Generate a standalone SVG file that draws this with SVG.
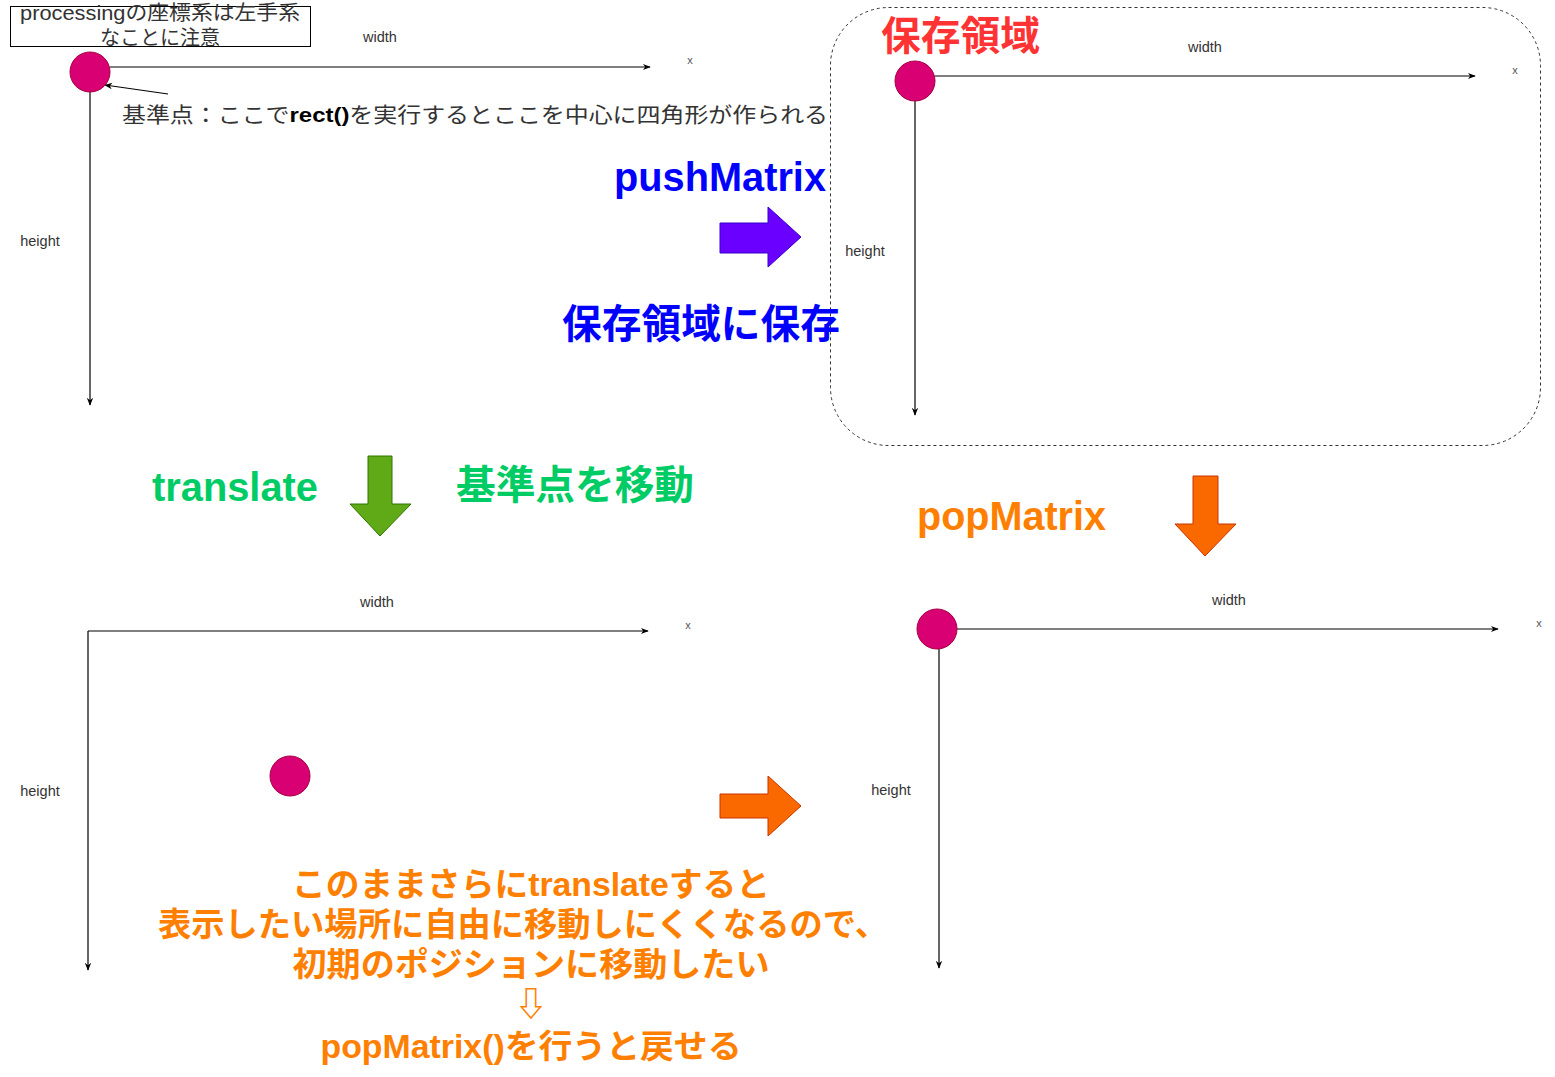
<svg xmlns="http://www.w3.org/2000/svg" width="1555" height="1077" viewBox="0 0 1555 1077">
<style>
.bg{fill:#ffffff}
.dot{fill:#d80073;stroke:#a50040;stroke-width:1}
.axis{fill:none;stroke:#000;stroke-width:1.2}
.lbl{font-family:"Liberation Sans","Noto Sans CJK JP",sans-serif;font-size:14.5px;fill:#333;text-anchor:middle}
.xl{font-family:"Liberation Sans","Noto Sans CJK JP",sans-serif;font-size:11px;fill:#555;text-anchor:middle}
.big{font-family:"Liberation Sans","Noto Sans CJK JP",sans-serif;font-size:40px;font-weight:bold}
.note{font-family:"Liberation Sans","Noto Sans CJK JP",sans-serif;fill:#333}
.bot{font-family:"Liberation Sans","Noto Sans CJK JP",sans-serif;font-size:33px;font-weight:bold;fill:#FF8000;text-anchor:middle}
</style>
<defs>
<marker id="ah" viewBox="0 0 10 10" refX="9" refY="5" markerWidth="8" markerHeight="8" markerUnits="userSpaceOnUse" orient="auto">
<path d="M0,1 L10,5 L0,9 L3,5 z" fill="#000"/>
</marker>
</defs>
<rect class="bg" x="0" y="0" width="1555" height="1077"/>

<g id="storage-area">
<rect x="830.5" y="7.5" width="710" height="438" rx="58" ry="58" fill="none" stroke="#333" stroke-width="1" stroke-dasharray="3 3"/>
<text class="big" x="881" y="50" fill="#FF3333" textLength="159" lengthAdjust="spacingAndGlyphs">保存領域</text>
</g>

<g id="note-box">
<rect x="10.5" y="6.5" width="300" height="40" fill="#fff" stroke="#000" stroke-width="1"/>
<text class="note" font-size="20" x="160" y="20" text-anchor="middle" textLength="280" lengthAdjust="spacingAndGlyphs">processingの座標系は左手系</text>
<text class="note" font-size="20" x="160" y="45" text-anchor="middle">なことに注意</text>
</g>

<g id="origin-note">
<text class="note" font-size="21" x="122" y="122" textLength="706" lengthAdjust="spacingAndGlyphs">基準点：ここで<tspan font-weight="bold" fill="#000">rect()</tspan>を実行するとここを中心に四角形が作られる</text>
</g>

<g id="connectors">
<line class="axis" x1="110" y1="67" x2="650" y2="67" marker-end="url(#ah)"/>
<line class="axis" x1="90" y1="92" x2="90" y2="405" marker-end="url(#ah)"/>
<line class="axis" x1="168" y1="94" x2="105" y2="85" stroke-width="1" marker-end="url(#ah)"/>
<line class="axis" x1="935" y1="76" x2="1475" y2="76" marker-end="url(#ah)"/>
<line class="axis" x1="915" y1="101" x2="915" y2="415" marker-end="url(#ah)"/>
<line class="axis" x1="88" y1="631" x2="648" y2="631" marker-end="url(#ah)"/>
<line class="axis" x1="88" y1="631" x2="88" y2="970" marker-end="url(#ah)"/>
<line class="axis" x1="957" y1="629" x2="1498" y2="629" stroke="#808080" stroke-width="1.5" marker-end="url(#ah)"/>
<line class="axis" x1="939" y1="649" x2="939" y2="968" stroke="#333" marker-end="url(#ah)"/>
</g>

<g id="axes-labels">
<text class="lbl" x="380" y="42">width</text>
<text class="xl" x="690" y="64">x</text>
<text class="lbl" x="40" y="246">height</text>
<text class="lbl" x="1205" y="52">width</text>
<text class="xl" x="1515" y="74">x</text>
<text class="lbl" x="865" y="256">height</text>
<text class="lbl" x="377" y="607">width</text>
<text class="xl" x="688" y="629">x</text>
<text class="lbl" x="40" y="796">height</text>
<text class="lbl" x="1229" y="605">width</text>
<text class="xl" x="1539" y="627">x</text>
<text class="lbl" x="891" y="795">height</text>
</g>

<g id="origin-top-left"><circle class="dot" cx="90" cy="72" r="20"/></g>
<g id="origin-top-right"><circle class="dot" cx="915" cy="81" r="20"/></g>
<g id="origin-bottom-left"><circle class="dot" cx="290" cy="776" r="20"/></g>
<g id="origin-bottom-right"><circle class="dot" cx="937" cy="629" r="20"/></g>

<g id="push-arrow">
<path d="M720,223 L768,223 L768,207 L801,237 L768,267 L768,253 L720,253 Z" fill="#6a00ff" stroke="#3700cc" stroke-width="1"/>
</g>
<g id="push-label">
<text class="big" x="826" y="191" text-anchor="end" fill="#0000FF" textLength="212" lengthAdjust="spacingAndGlyphs">pushMatrix</text>
</g>
<g id="push-desc">
<text class="big" x="562" y="338" fill="#0000FF" textLength="278" lengthAdjust="spacingAndGlyphs">保存領域に保存</text>
</g>

<g id="translate-arrow">
<path d="M368,456 L392,456 L392,504 L411,504 L380,536 L350,504 L368,504 Z" fill="#60a917" stroke="#2d7600" stroke-width="1"/>
</g>
<g id="translate-label">
<text class="big" x="152" y="501" fill="#00CC66" textLength="166" lengthAdjust="spacingAndGlyphs">translate</text>
</g>
<g id="translate-desc">
<text class="big" x="456" y="499" fill="#00CC66" textLength="238" lengthAdjust="spacingAndGlyphs">基準点を移動</text>
</g>

<g id="pop-arrow">
<path d="M1193,476 L1218,476 L1218,524 L1236,524 L1205,556 L1175,524 L1193,524 Z" fill="#fa6800" stroke="#C73500" stroke-width="1"/>
</g>
<g id="pop-label">
<text class="big" x="917" y="530" fill="#FF8000" textLength="189" lengthAdjust="spacingAndGlyphs">popMatrix</text>
</g>

<g id="return-arrow">
<path d="M720,794 L768,794 L768,776 L801,806 L768,836 L768,818 L720,818 Z" fill="#fa6800" stroke="#C73500" stroke-width="1"/>
</g>

<g id="bottom-note">
<text class="bot" x="531" y="896" textLength="478" lengthAdjust="spacingAndGlyphs">このままさらにtranslateすると</text>
<text class="bot" x="523" y="936" textLength="730" lengthAdjust="spacingAndGlyphs">表示したい場所に自由に移動しにくくなるので、</text>
<text class="bot" x="531" y="976" textLength="477" lengthAdjust="spacingAndGlyphs">初期のポジションに移動したい</text>
<text class="bot" x="531" y="1016" font-size="26" font-weight="normal">⇩</text>
<text class="bot" x="531" y="1058" textLength="421" lengthAdjust="spacingAndGlyphs">popMatrix()を行うと戻せる</text>
</g>
</svg>
